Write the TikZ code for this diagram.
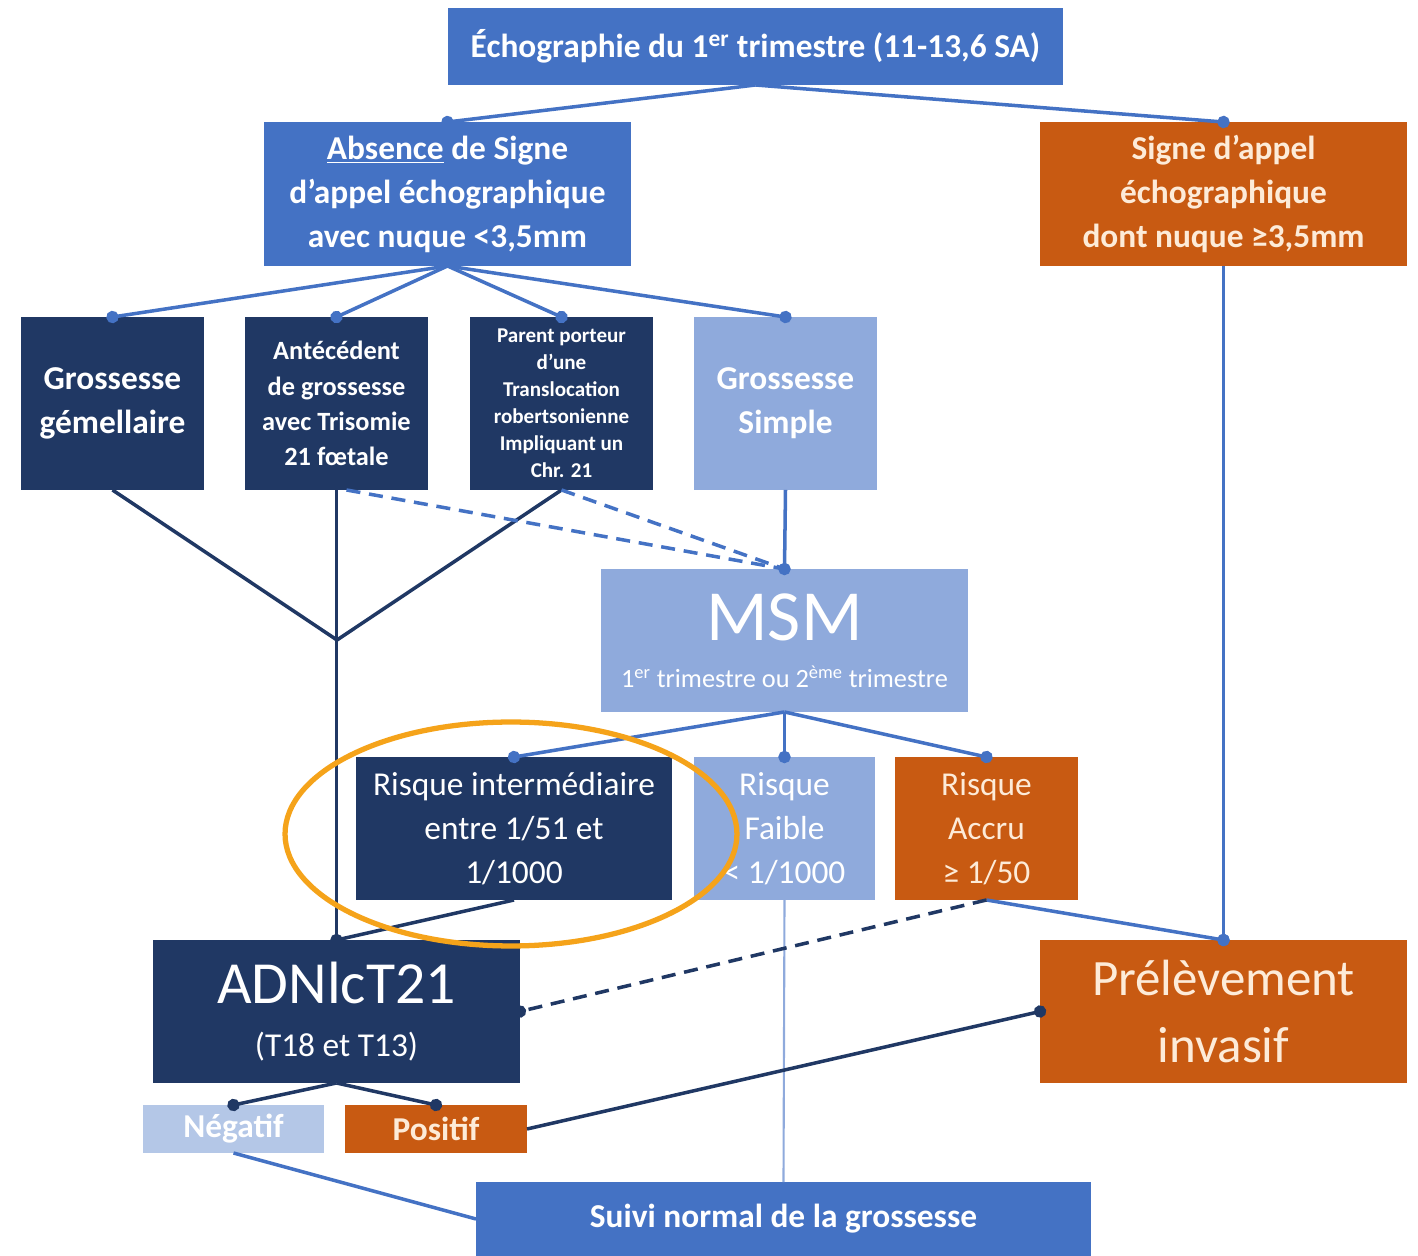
\documentclass[tikz,border=0pt]{standalone}
\usepackage{fontspec}
\setmainfont{Carlito}
\usetikzlibrary{arrows.meta}
\definecolor{mblue}{HTML}{4472C4}
\definecolor{navy}{HTML}{203864}
\definecolor{lblue}{HTML}{8FAADC}
\definecolor{vlblue}{HTML}{B4C7E7}
\definecolor{orng}{HTML}{C85A12}
\definecolor{cream}{HTML}{FDEBD8}
\definecolor{hilite}{HTML}{F5A31A}
\tikzset{
  box/.style={inner sep=0pt, outer sep=0pt, align=center, text=white, draw=none},
  bmid/.style={box, fill=mblue},
  bnavy/.style={box, fill=navy},
  blight/.style={box, fill=lblue},
  bvlight/.style={box, fill=vlblue},
  bor/.style={box, fill=orng, text=cream},
  sz/.style 2 args={minimum width=#1cm, minimum height=#2cm},
  bf/.style={font=\fontsize{19}{25}\selectfont\bfseries},
  rf/.style={font=\fontsize{19}{25}\selectfont},
  ln/.style={line width=2pt, draw=mblue},
  lnavy/.style={line width=2pt, draw=navy},
  llight/.style={line width=1.2pt, draw=lblue},
  dotend/.style={-{Circle[length=7pt,width=7pt]}, shorten >=-3.5pt},
  dsh/.style={dash pattern=on 8pt off 5pt},
}
\begin{document}
\begin{tikzpicture}[x=0.02cm,y=-0.02cm]
\useasboundingbox (0,0) rectangle (1418,1256);
% boxes
\node[bmid, bf, sz={12.3}{1.54}] (top) at (755.5,46.5) {Échographie du 1\textsuperscript{er} trimestre (11-13,6 SA)};
\node[bmid, bf, sz={7.34}{2.88}] (abs) at (447.5,194) {\underline{Absence} de Signe\\d’appel échographique\\avec nuque <3,5mm};
\node[bor, bf, sz={7.34}{2.88}] (sig) at (1223.5,194) {Signe d’appel\\échographique\\dont nuque ≥3,5mm};
\node[bnavy, bf, sz={3.66}{3.46}] (gem) at (112.5,403.5) {Grossesse\\gémellaire};
\node[bnavy, font=\fontsize{15}{20}\selectfont\bfseries, sz={3.66}{3.46}] (ant) at (336.5,403.5) {Antécédent\\de grossesse\\avec Trisomie\\21 fœtale};
\node[bnavy, font=\fontsize{12}{15.4}\selectfont\bfseries, sz={3.66}{3.46}] (par) at (561.5,403.5) {Parent porteur\\d’une\\Translocation\\robertsonienne\\Impliquant un\\Chr. 21};
\node[blight, bf, sz={3.66}{3.46}] (sim) at (785.5,403.5) {Grossesse\\Simple};
\node[blight, sz={7.34}{2.86}] (msm) at (784.5,640.5) {{\fontsize{41}{41}\selectfont MSM}\\[13pt]{\fontsize{15}{17}\selectfont 1\textsuperscript{er} trimestre ou 2\textsuperscript{ème} trimestre}};
\node[bnavy, rf, sz={6.32}{2.86}] (rint) at (514,828.5) {Risque intermédiaire\\entre 1/51 et\\1/1000};
\node[blight, rf, sz={3.62}{2.86}] (fai) at (784.5,828.5) {Risque\\Faible\\< 1/1000};
\node[bor, rf, sz={3.66}{2.86}] (acc) at (986.5,828.5) {Risque\\Accru\\≥ 1/50};
\node[bnavy, sz={7.34}{2.86}] (adn) at (336.5,1011.5) {{\fontsize{34}{34}\selectfont ADNlcT21}\\[15pt]{\fontsize{19}{22}\selectfont (T18 et T13)}};
\node[bor, font=\fontsize{29}{38}\selectfont, sz={7.34}{2.86}] (prel) at (1223.5,1011.5) {Prélèvement\\invasif};
\node[bvlight, bf, sz={3.62}{0.96}] (neg) at (233.5,1129) {Négatif};
\node[bor, bf, sz={3.64}{0.96}] (pos) at (436,1129) {Positif};
\node[bmid, bf, sz={12.3}{1.48}] (sui) at (783.5,1219) {Suivi normal de la grossesse};
\coordinate (J) at (337,640);
% connectors
\draw[ln, dotend] (top.south) -- (abs.north);
\draw[ln, dotend] (top.south) -- (sig.north);
\draw[ln, dotend] (abs.south) -- (gem.north);
\draw[ln, dotend] (abs.south) -- (ant.north);
\draw[ln, dotend] (abs.south) -- (par.north);
\draw[ln, dotend] (abs.south) -- (sim.north);
\draw[lnavy] (gem.south) -- (J);
\draw[lnavy] (par.south) -- (J);
\draw[lnavy, dotend] (ant.south) -- (adn.north);
\draw[ln, dsh] ([xshift=0.2cm]ant.south) -- (msm.north);
\draw[ln, dsh] (par.south) -- (msm.north);
\draw[ln, dotend] (sim.south) -- (msm.north);
\draw[ln, dotend] (msm.south) -- (rint.north);
\draw[ln, dotend] (msm.south) -- (fai.north);
\draw[ln, dotend] (msm.south) -- (acc.north);
\draw[lnavy] (rint.south) -- (adn.north);
\draw[llight] (fai.south) -- (sui.north);
\draw[ln, dotend] (acc.south) -- (prel.north);
\draw[ln, dotend] (sig.south) -- (prel.north);
\draw[lnavy, dsh, dotend] (acc.south) -- (adn.east);
\draw[lnavy, dotend] (adn.south) -- (neg.north);
\draw[lnavy, dotend] (adn.south) -- (pos.north);
\draw[lnavy, dotend] (pos.east) -- (prel.west);
\draw[ln] (neg.south) -- (sui.west);
% highlight
\draw[hilite, line width=3pt] (511,834) ellipse [x radius=4.52cm, y radius=2.24cm];
\end{tikzpicture}
\end{document}
